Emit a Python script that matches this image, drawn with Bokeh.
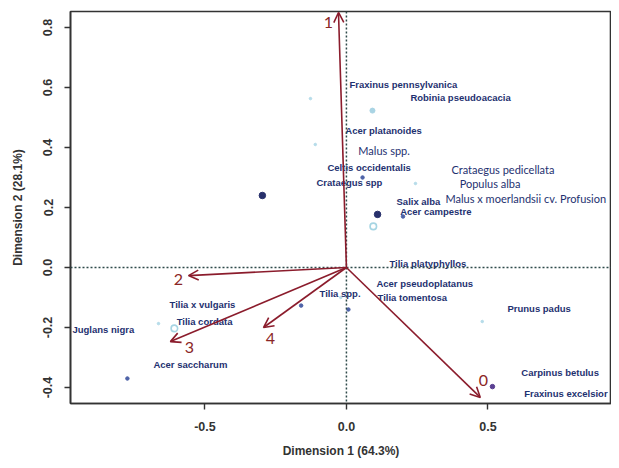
from bokeh.plotting import figure
from bokeh.models import (Range1d, FixedTicker, PrintfTickFormatter, Span, Arrow,
                          OpenHead, ColumnDataSource)
from bokeh.core.properties import value
from bokeh.embed import file_html
from bokeh.resources import INLINE

# ---------------- data ----------------
# loading vectors (arrows)
arrow_names = ["1", "2", "3", "4", "0"]
arrow_x = [-0.028, -0.558, -0.622, -0.293, 0.473]
arrow_y = [0.850, -0.027, -0.247, -0.200, -0.433]

# species labels, narrow font
small_labels = ["Fraxinus pennsylvanica", "Robinia pseudoacacia", "Acer platanoides",
                "Celtis occidentalis", "Crataegus spp", "Salix alba", "Acer campestre",
                "Tilia platyphyllos", "Acer pseudoplatanus", "Tilia tomentosa", "Tilia spp.",
                "Prunus padus", "Carpinus betulus", "Fraxinus excelsior",
                "Tilia x vulgaris", "Tilia cordata", "Juglans nigra", "Acer saccharum"]
small_x = [0.011, 0.226, -0.004, -0.067, -0.106, 0.177, 0.190, 0.152, 0.106, 0.110,
           -0.095, 0.569, 0.618, 0.628, -0.625, -0.600, -0.968, -0.682]
small_y = [0.610, 0.567, 0.457, 0.333, 0.283, 0.220, 0.187, 0.013, -0.053, -0.100,
           -0.087, -0.137, -0.350, -0.420, -0.123, -0.180, -0.207, -0.323]

# species labels, larger font
big_labels = ["Malus spp.", "Crataegus pedicellata", "Populus alba",
              "Malus x moerlandsii cv. Profusion"]
big_x = [0.042, 0.371, 0.400, 0.350]
big_y = [0.390, 0.327, 0.280, 0.230]

# individual points
pt_x = [-0.297, -0.127, -0.110, 0.092, 0.244, 0.110, 0.095, 0.200, 0.057,
        -0.020, 0.007, -0.160, -0.664, -0.608, -0.774, 0.480, 0.516]
pt_y = [0.240, 0.563, 0.410, 0.523, 0.280, 0.177, 0.137, 0.170, 0.300,
        -0.100, -0.140, -0.127, -0.187, -0.203, -0.370, -0.180, -0.397]
pt_kind = ["dark", "tiny", "tiny", "light", "tiny", "dark", "ring", "mid", "mid",
           "tiny", "mid", "mid", "tiny", "ring", "mid", "tiny", "purple"]

x_ticks = [-0.5, 0.0, 0.5]
y_ticks = [-0.4, -0.2, 0.0, 0.2, 0.4, 0.6, 0.8]
x_title = "Dimension 1 (64.3%)"
y_title = "Dimension 2 (28.1%)"

# ---------------- styles ----------------
kind_style = {
    "dark":   dict(size=6.5, fill="#27306b", line="#27306b"),
    "light":  dict(size=5, fill="#a9d4e4", line="#a9d4e4"),
    "tiny":   dict(size=2.5, fill="#b5dcea", line="#b5dcea"),
    "ring":   dict(size=6.5, fill=None, line="#a6d5e3"),
    "mid":    dict(size=3.5, fill="#4e63a8", line="#4e63a8"),
    "purple": dict(size=4.5, fill="#5a3f92", line="#5a3f92"),
}
label_offsets = {"1": (-10, 10), "2": (-10, 4), "3": (19, 6), "4": (7, 11), "0": (3, -17)}

TEXT_COL = "#1e3170"
ARROW_COL = "#8b1c2c"
AXIS_COL = "#333333"
SANS = "Liberation Sans"

W, H = 611, 460
LEFT, TOP, FRAME_H = 70, 11, 392
p = figure(width=W, height=H, output_backend="svg", toolbar_location=None,
           x_range=Range1d(-0.975, -0.975 + (W - LEFT) / 283.0),
           y_range=Range1d(-0.4533, 0.8533),
           min_border_left=LEFT, min_border_right=0, min_border_top=TOP,
           min_border_bottom=H - TOP - FRAME_H)
p.background_fill_color = "white"
p.border_fill_color = "white"
p.grid.visible = False
p.outline_line_color = AXIS_COL
p.outline_line_width = 1.6

for ax, ticks in ((p.xaxis[0], x_ticks), (p.yaxis[0], y_ticks)):
    ax.ticker = FixedTicker(ticks=ticks)
    ax.formatter = PrintfTickFormatter(format="%.1f")
    ax.axis_line_color = AXIS_COL
    ax.axis_line_width = 1.6
    ax.major_tick_line_color = AXIS_COL
    ax.major_tick_line_width = 1.4
    ax.major_tick_out = 6
    ax.major_tick_in = 0
    ax.minor_tick_line_color = None
    ax.major_label_text_font = SANS
    ax.major_label_text_font_style = "bold"
    ax.major_label_text_font_size = "12.5px"
    ax.major_label_text_color = AXIS_COL
    ax.axis_label_text_font = SANS
    ax.axis_label_text_font_style = "bold"
    ax.axis_label_text_font_size = "12px"
    ax.axis_label_text_color = AXIS_COL

p.xaxis.axis_label = x_title
p.yaxis.axis_label = y_title
p.xaxis.major_label_standoff = 12
p.xaxis.axis_label_standoff = 10
p.yaxis.major_label_orientation = "vertical"
p.yaxis.major_label_standoff = 12
p.yaxis.axis_label_standoff = 16

# dotted reference lines
p.add_layout(Span(location=0, dimension="height", line_color="#2e4a4a",
                  line_dash="2 2", line_width=1.5))
p.add_layout(Span(location=0, dimension="width", line_color="#2e4a4a",
                  line_dash="2 2", line_width=1.5))

# points
for kind, st in kind_style.items():
    xs = [x for x, k in zip(pt_x, pt_kind) if k == kind]
    ys = [y for y, k in zip(pt_y, pt_kind) if k == kind]
    if st["fill"] is None:
        p.scatter(xs, ys, size=st["size"], fill_color=None, line_color=st["line"],
                  line_width=1.6)
    else:
        p.scatter(xs, ys, size=st["size"], fill_color=st["fill"], line_color=st["line"])

# species labels
p.text(small_x, small_y, text=small_labels, text_font=value(SANS),
       text_font_style="bold", text_font_size="9.5px", text_color=TEXT_COL,
       text_align="left", text_baseline="middle")
p.text(big_x, big_y, text=big_labels, text_font=value("Lato"),
       text_font_size="11px", text_color=TEXT_COL,
       text_align="left", text_baseline="middle")

# arrows
asrc = ColumnDataSource(dict(x=arrow_x, y=arrow_y))
p.add_layout(Arrow(x_start=0, y_start=0, x_end="x", y_end="y", source=asrc,
                   line_color=ARROW_COL, line_width=1.6,
                   end=OpenHead(size=10, line_color=ARROW_COL, line_width=1.6)))

lsrc = ColumnDataSource(dict(x=arrow_x, y=arrow_y, t=arrow_names,
                             dx=[label_offsets[n][0] for n in arrow_names],
                             dy=[label_offsets[n][1] for n in arrow_names]))
p.text("x", "y", text="t", source=lsrc, x_offset="dx", y_offset="dy",
       text_font=value("Lato"), text_font_size="16px", text_color="#8b2626",
       text_align="center", text_baseline="middle")

open("out.html", "w").write(file_html(p, INLINE))
